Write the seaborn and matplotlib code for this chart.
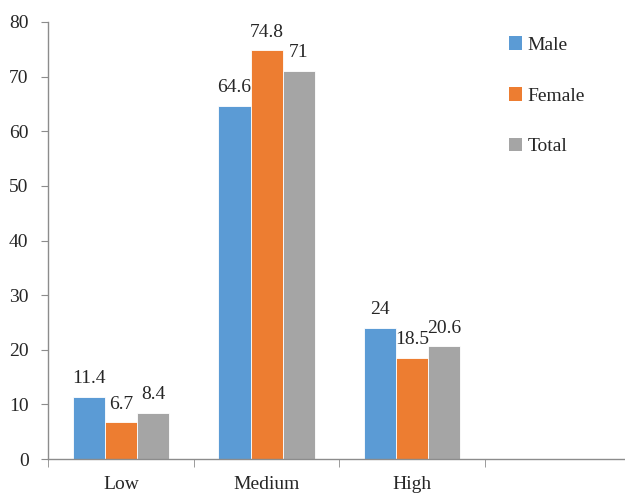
import pandas as pd
import matplotlib
matplotlib.use("Agg")
import matplotlib.pyplot as plt
import seaborn as sns
from matplotlib.patches import Patch

# data
levels = ["Low", "Medium", "High"]
groups = ["Male", "Female", "Total"]
male = [11.4, 64.6, 24]
female = [6.7, 74.8, 18.5]
total = [8.4, 71, 20.6]
colors = ["#5B9BD5", "#ED7D31", "#A5A5A5"]

df = pd.DataFrame({
    "level": levels * 3,
    "group": [g for g in groups for _ in levels],
    "value": male + female + total,
})

sns.set_style("white")
plt.rcParams["font.family"] = ["Liberation Serif", "DejaVu Serif"]
plt.rcParams["font.size"] = 14

fig = plt.figure(figsize=(6.25, 4.93), dpi=100)
ax = fig.add_axes([48 / 625, 1 - 459 / 493, 1 - 48 / 625, (459 - 22) / 493])

sns.barplot(data=df, x="level", y="value", hue="group", order=levels,
            hue_order=groups, palette=colors, width=0.66, saturation=1,
            edgecolor="white", linewidth=0.6, legend=False, ax=ax)

for cont in ax.containers:
    ax.bar_label(cont, labels=[f"{b.get_height():g}" for b in cont],
                 padding=7, fontsize=14)

ax.set_xlim(-0.5, 3.46)
ax.set_ylim(0, 80)
ax.set_yticks(range(0, 81, 10))
ax.set_xlabel("")
ax.set_ylabel("")

sns.despine(ax=ax, top=True, right=True)
for s in ["left", "bottom"]:
    ax.spines[s].set_color("#8c8c8c")
    ax.spines[s].set_linewidth(1)

ax.tick_params(axis="y", which="major", direction="out", length=5,
               color="#8c8c8c", left=True, labelsize=14, pad=9)
ax.set_xticks([-0.5, 0.5, 1.5, 2.5], minor=True)
ax.tick_params(axis="x", which="minor", direction="out", length=6,
               color="#8c8c8c", bottom=True)
ax.tick_params(axis="x", which="major", length=0, labelsize=14, pad=12)

handles = [Patch(facecolor=c, edgecolor="none") for c in colors]
fig.legend(handles, groups, loc="upper left", bbox_to_anchor=(0.786, 0.962),
           frameon=False, fontsize=14, labelspacing=1.7,
           handlelength=0.7, handleheight=0.7, handletextpad=0.25)

fig.savefig("out.png", dpi=100)
